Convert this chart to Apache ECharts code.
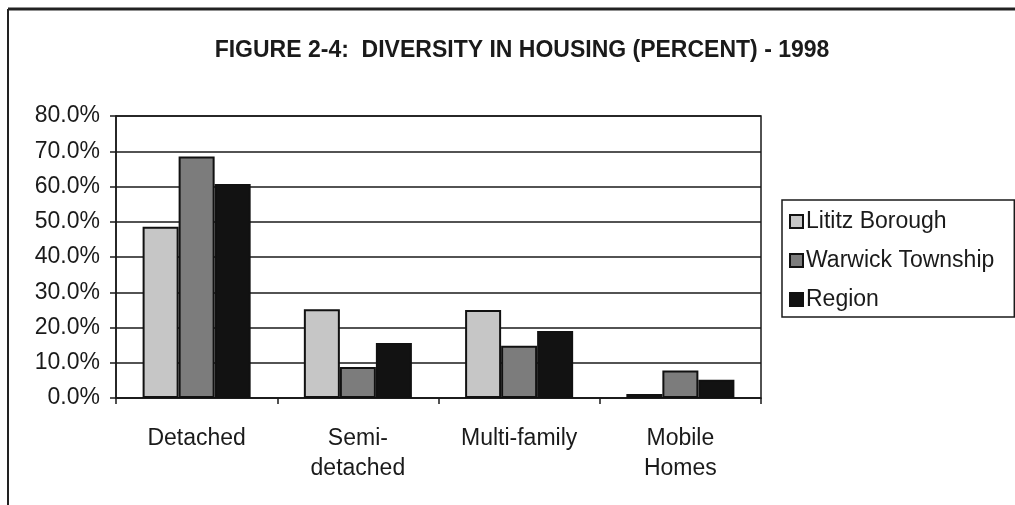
<!DOCTYPE html>
<html>
<head>
<meta charset="utf-8">
<script src="https://cdn.jsdelivr.net/npm/echarts@6/dist/echarts.min.js"></script>
<style>
html,body{margin:0;padding:0;background:#fff;}
#c{width:1015px;height:505px;}
</style>
</head>
<body>
<div id="c"></div>
<script>
var categories = ['Detached', 'Semi-\ndetached', 'Multi-family', 'Mobile\nHomes'];
var seriesNames = ['Lititz Borough', 'Warwick Township', 'Region'];
var lititz = [48.6, 25.2, 25.0, 1.1];
var warwick = [68.5, 8.8, 14.8, 7.8];
var region = [60.7, 15.6, 19.0, 5.2];
var yTicks = [0, 10, 20, 30, 40, 50, 60, 70, 80];
var titleText = 'FIGURE 2-4:  DIVERSITY IN HOUSING (PERCENT) - 1998';

var FONT = '"Liberation Sans", Arial, sans-serif';
var colors = ['#c6c6c6', '#7c7c7c', '#121212'];
var dataSets = [lititz, warwick, region];

var chart = echarts.init(document.getElementById('c'), null, {renderer: 'canvas'});
var option = {
  backgroundColor: '#ffffff',
  animation: false,
  title: {
    text: titleText,
    left: 517,
    textAlign: 'center',
    top: 34,
    textStyle: {fontFamily: FONT, fontSize: 23, fontWeight: 'bold', color: '#1a1a1a'}
  },
  legend: {
    orient: 'vertical',
    left: 782,
    top: 200,
    padding: [10, 20, 6, 7],
    itemGap: 16,
    itemWidth: 13,
    itemHeight: 13,
    borderColor: '#1a1a1a',
    borderWidth: 1.5,
    backgroundColor: '#fff',
    icon: 'rect',
    textStyle: {fontFamily: FONT, fontSize: 23, color: '#1a1a1a', padding: [0, 0, 0, -2]},
    data: seriesNames
  },
  grid: {left: 116, right: 254, top: 116, bottom: 107, show: true, borderColor: '#1a1a1a', borderWidth: 1.5},
  xAxis: {
    type: 'category',
    data: categories,
    axisLine: {lineStyle: {color: '#1a1a1a', width: 1.5}},
    axisTick: {show: true, length: 6, lineStyle: {color: '#1a1a1a', width: 1.5}},
    axisLabel: {fontFamily: FONT, fontSize: 23, color: '#1a1a1a', margin: 26, lineHeight: 30, interval: 0}
  },
  yAxis: {
    type: 'value',
    min: yTicks[0],
    max: yTicks[yTicks.length - 1],
    interval: 10,
    axisLine: {show: true, lineStyle: {color: '#1a1a1a', width: 1.5}},
    axisTick: {show: true, length: 6, lineStyle: {color: '#1a1a1a', width: 1.5}},
    splitLine: {lineStyle: {color: '#1a1a1a', width: 1.5}},
    axisLabel: {fontFamily: FONT, fontSize: 23, color: '#1a1a1a', margin: 16,
      formatter: function (v) { return v.toFixed(1) + '%'; }}
  },
  series: seriesNames.map(function (n, i) {
    return {
      name: n,
      type: 'bar',
      data: dataSets[i],
      barGap: '0%',
      barCategoryGap: '33%',
      itemStyle: {color: colors[i], borderColor: '#111', borderWidth: 2}
    };
  }),
  graphic: [
    {type: 'line', shape: {x1: 8, y1: 9, x2: 1015, y2: 9}, style: {stroke: '#222', lineWidth: 3}},
    {type: 'line', shape: {x1: 8, y1: 9, x2: 8, y2: 505}, style: {stroke: '#222', lineWidth: 2}}
  ]
};
chart.setOption(option);
</script>
</body>
</html>
